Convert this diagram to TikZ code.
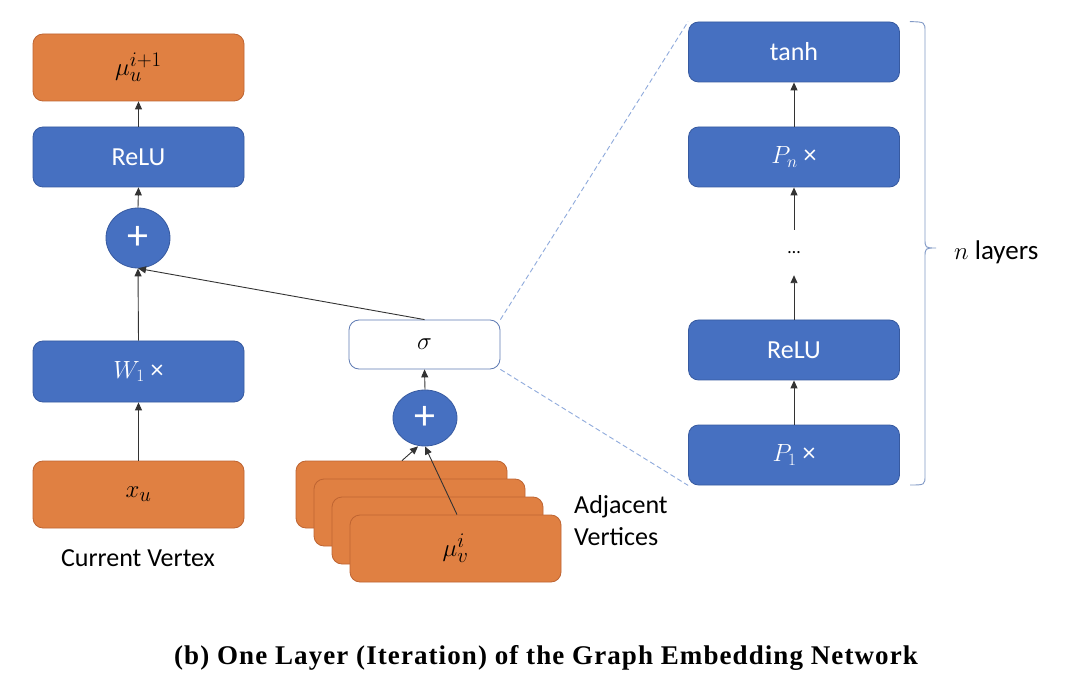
\documentclass[tikz,border=0pt]{standalone}
\usepackage{fontspec}
\setmainfont{Carlito}
\newfontfamily\capfont[LetterSpace=4]{Liberation Serif}
\usetikzlibrary{arrows.meta,shapes.geometric}
\definecolor{orfill}{RGB}{224,128,66}
\definecolor{ordraw}{RGB}{190,100,50}
\definecolor{blfill}{RGB}{70,112,193}
\definecolor{bldraw}{RGB}{55,90,160}
\definecolor{dashblue}{RGB}{143,170,220}
\tikzset{
  boxbase/.style={rectangle,rounded corners=10pt,minimum width=211pt,inner sep=0pt,line width=0.8pt,font=\fontsize{26}{30}\selectfont},
  orbox/.style={boxbase,fill=orfill,draw=ordraw,minimum height=67pt},
  blbox/.style={boxbase,fill=blfill,draw=bldraw,minimum height=60pt,text=white},
  plusnode/.style={ellipse,fill=blfill,draw=bldraw,line width=0.8pt,minimum width=64pt,text=white,inner sep=0pt,font=\fontsize{42}{44}\selectfont},
  conn/.style={line width=0.9pt,draw=black!80,-{Triangle[length=8pt,width=7pt]}},
  dashconn/.style={line width=0.9pt,draw=dashblue,dash pattern=on 5pt off 3pt},
  lbl/.style={font=\fontsize{26}{32}\selectfont,inner sep=0pt},
  mathtxt/.style={font=\fontsize{30}{32}\selectfont}
}
\begin{document}
\begin{tikzpicture}[x=1pt,y=-1pt]
\useasboundingbox[fill=white] (0,0) rectangle (1092,684);
% left column
\node[orbox,mathtxt] (mu) at (138.5,67.5) {$\mu_u^{i+1}$};
\node[blbox] (relu) at (138.5,157) {ReLU};
\node[plusnode,minimum height=60pt] (plus1) at (138,238) {+};
\node[blbox,minimum height=61pt] (w1) at (138.5,371.5) {$W_1$ ×};
\node[orbox,mathtxt] (xu) at (138.5,494.5) {$x_u$};
\node[lbl] (curlbl) at (138,558) {Current Vertex};
% middle
\node[boxbase,fill=white,draw=bldraw!80,minimum width=151pt,minimum height=49pt,mathtxt] (sigma) at (424.5,344.5) {$\sigma$};
\node[plusnode,minimum height=56pt] (plus2) at (425,418) {+};
\node[orbox] (adj1) at (401.5,494.5) {};
\node[orbox] (adj2) at (419.5,512.5) {};
\node[orbox] (adj3) at (437.5,530.5) {};
\node[orbox,mathtxt] (adj4) at (455.5,548.5) {$\mu_v^{i}$};
\node[lbl,anchor=west,align=left] (adjlbl) at (574,521) {Adjacent\\Vertices};
% right column
\node[blbox] (tanh) at (794,52) {tanh};
\node[blbox] (pn) at (794,157) {$P_n$ ×};
\node[inner sep=0pt,minimum height=45pt,font=\fontsize{18}{20}\selectfont] (dots) at (794,252.5) {…};
\node[blbox] (relu2) at (794,350) {ReLU};
\node[blbox] (p1) at (794,455) {$P_1$ ×};
\node[lbl,anchor=west,font=\fontsize{27}{32}\selectfont] (nlayers) at (954,252) {$n$ layers};
% connectors
\draw[conn] (xu.north) -- (w1.south);
\draw[conn] (w1.north) -- (plus1.south);
\draw[conn] (sigma.north) -- (plus1.south);
\draw[conn] (plus1.north) -- (relu.south);
\draw[conn] (relu.north) -- (mu.south);
\draw[conn] (plus2.north) -- (sigma.south);
\coordinate (a1) at ([xshift=0.5pt]adj1.north);
\coordinate (a4) at ([xshift=1.5pt]adj4.north);
\draw[conn] (a1) -- ([xshift=-7pt]plus2.south);
\draw[conn] (a4) -- (plus2.south);
\draw[conn] (p1.north) -- (relu2.south);
\draw[conn] (relu2.north) -- (dots.south);
\draw[conn] (dots.north) -- (pn.south);
\draw[conn] (pn.north) -- (tanh.south);
\draw[dashconn] (sigma.north east) -- (tanh.north west);
\draw[dashconn] (sigma.south east) -- (p1.south west);
% brace
\draw[dashblue!90!black,line width=0.9pt] (tanh.north east) ++(10,0) coordinate (bt)
  .. controls (925,22) .. (925,32) -- (925,238) .. controls (925,248) .. (936,248)
  .. controls (925,248) .. (925,258) -- (925,475) .. controls (925,485) .. (910,485);
% caption
\node[inner sep=0pt,font=\capfont\bfseries\fontsize{27}{30}\selectfont] (caption) at (546,658) {(b) One Layer (Iteration) of the Graph Embedding Network};
\end{tikzpicture}
\end{document}
